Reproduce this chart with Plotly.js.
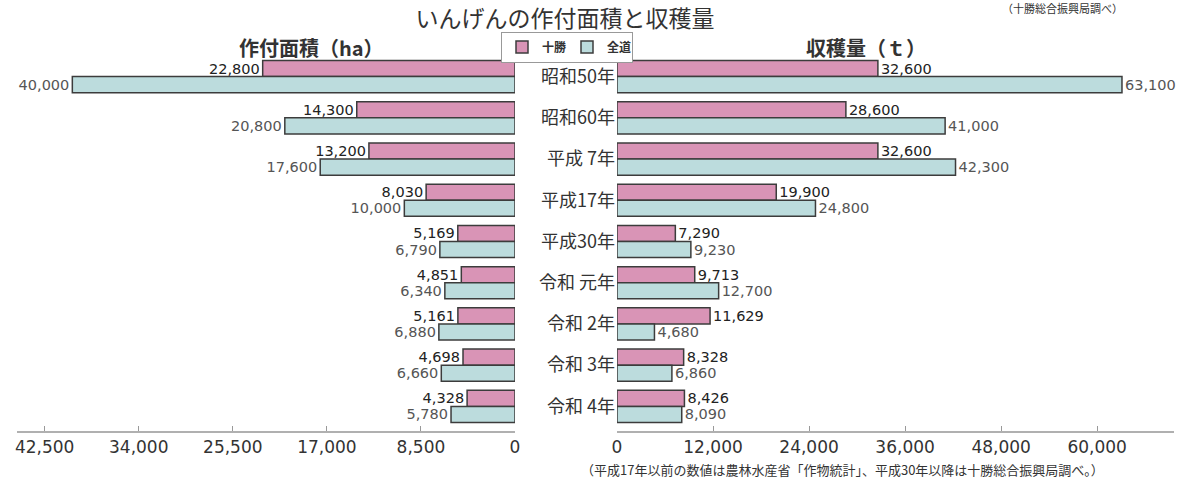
<!DOCTYPE html>
<html>
<head>
<meta charset="utf-8">
<script src="https://cdn.plot.ly/plotly-3.0.1.min.js"></script>
<style>html,body{margin:0;padding:0;background:#fff;}#chart{width:1200px;height:481px;}</style>
</head>
<body>
<div id="chart"></div>
<script>
const categories = ['昭和50年', '昭和60年', '平成 7年', '平成17年', '平成30年', '令和 元年', '令和 2年', '令和 3年', '令和 4年'];
const seriesNames = ['十勝', '全道'];
const areaTokachi = [22800, 14300, 13200, 8030, 5169, 4851, 5161, 4698, 4328];
const areaHokkaido = [40000, 20800, 17600, 10000, 6790, 6340, 6880, 6660, 5780];
const harvestTokachi = [32600, 28600, 32600, 19900, 7290, 9713, 11629, 8328, 8426];
const harvestHokkaido = [63100, 41000, 42300, 24800, 9230, 12700, 4680, 6860, 8090];
const areaTicks = [0, 8500, 17000, 25500, 34000, 42500];
const harvestTicks = [0, 12000, 24000, 36000, 48000, 60000];

const W = 1200, H = 481;
const pink = '#d994b6', cyan = '#bcdcdd', edge = '#3c3c3c';
const numFont = 'DejaVu Sans, Liberation Sans, sans-serif';
const jpFont = 'Noto Sans CJK JP, sans-serif';

function barTrace(x, name, color, xa, showLegend, txtColor) {
  return {
    type: 'bar', orientation: 'h', x: x, y: categories, name: name,
    xaxis: xa, yaxis: 'y', legendgroup: name, showlegend: showLegend,
    marker: {color: color, line: {color: edge, width: 1.5}},
    texttemplate: '%{x:,}', textposition: 'outside', cliponaxis: false,
    textfont: {family: numFont, size: 14.5, color: txtColor},
    hoverinfo: 'x+name'
  };
}

const data = [
  barTrace(areaTokachi, seriesNames[0], pink, 'x', true, '#222'),
  barTrace(areaHokkaido, seriesNames[1], cyan, 'x', true, '#555'),
  barTrace(harvestTokachi, seriesNames[0], pink, 'x2', false, '#222'),
  barTrace(harvestHokkaido, seriesNames[1], cyan, 'x2', false, '#555')
];

const axisCommon = {
  showgrid: false, zeroline: false, showline: true, linecolor: '#b0b0b0', linewidth: 2,
  ticks: 'inside', ticklen: 5, tickcolor: '#999', tickwidth: 1,
  tickformat: ',', tickfont: {family: numFont, size: 17, color: '#333'},
  anchor: 'free', position: (H - 432) / H, fixedrange: true
};

const layout = {
  width: W, height: H,
  margin: {l: 0, r: 0, t: 0, b: 0},
  paper_bgcolor: '#fff', plot_bgcolor: '#fff',
  barmode: 'group', bargap: 0.22, bargroupgap: 0,
  font: {family: jpFont, color: '#333'},
  title: {
    text: 'いんげんの作付面積と収穫量',
    x: 565 / W, xanchor: 'center', xref: 'paper',
    y: 1 - 19 / H, yanchor: 'middle', yref: 'paper',
    font: {family: jpFont, size: 23, color: '#333', weight: 'normal'}
  },
  xaxis: Object.assign({}, axisCommon, {
    domain: [17 / W, 515 / W], range: [45000, 0], tickvals: areaTicks
  }),
  xaxis2: Object.assign({}, axisCommon, {
    domain: [617 / W, 1174 / W], range: [0, 69600], tickvals: harvestTicks
  }),
  yaxis: {
    type: 'category', categoryarray: categories, categoryorder: 'array',
    autorange: 'reversed', anchor: 'x2', side: 'left',
    domain: [(H - 427) / H, (H - 56) / H],
    showgrid: false, zeroline: false, showline: false, ticks: '',
    tickfont: {family: jpFont, size: 18, color: '#333'}, ticklabelstandoff: 1,
    fixedrange: true
  },
  legend: {
    orientation: 'h', x: 567 / W, xanchor: 'center', y: 1 - 47 / H, yanchor: 'middle',
    bordercolor: '#999', borderwidth: 1, bgcolor: '#fff',
    font: {family: jpFont, size: 12, color: '#333', weight: 'bold'},
    itemwidth: 30, entrywidth: 20, entrywidthmode: 'pixels',
    traceorder: 'normal', tracegroupgap: 0
  },
  annotations: [
    {text: '作付面積（ha）', xref: 'paper', yref: 'paper', x: 311 / W, y: 1 - 47 / H,
     xanchor: 'center', yanchor: 'middle', showarrow: false,
     font: {family: jpFont, size: 20, color: '#333', weight: 'bold'}},
    {text: '収穫量（ｔ）', xref: 'paper', yref: 'paper', x: 866 / W, y: 1 - 47 / H,
     xanchor: 'center', yanchor: 'middle', showarrow: false,
     font: {family: jpFont, size: 20, color: '#333', weight: 'bold'}},
    {text: '（平成17年以前の数値は農林水産省「作物統計」、平成30年以降は十勝総合振興局調べ。）',
     xref: 'paper', yref: 'paper', x: 842 / W, y: 1 - 469 / H,
     xanchor: 'center', yanchor: 'middle', showarrow: false,
     font: {family: jpFont, size: 13, color: '#333'}},
    {text: '（十勝総合振興局調べ）', xref: 'paper', yref: 'paper', x: 1062 / W, y: 1 - 8 / H,
     xanchor: 'center', yanchor: 'middle', showarrow: false,
     font: {family: jpFont, size: 11, color: '#333'}}
  ]
};

Plotly.newPlot('chart', data, layout, {displayModeBar: false, staticPlot: true});
</script>
</body>
</html>
